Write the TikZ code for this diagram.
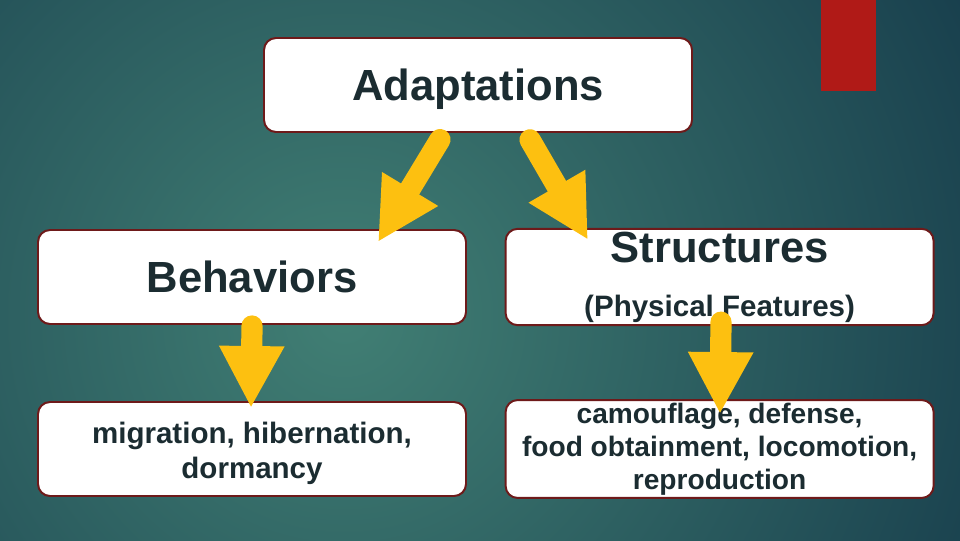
\documentclass[tikz,border=0pt]{standalone}
\usepackage{fontspec}
\setmainfont{Liberation Sans}
\usetikzlibrary{arrows.meta, positioning}
\definecolor{TealLight}{HTML}{417F74}
\definecolor{TealDark}{HTML}{153A4A}
\definecolor{BoxRed}{HTML}{6E1A1A}
\definecolor{InkDark}{HTML}{1B2C31}
\definecolor{ArrowGold}{HTML}{FDC010}
\definecolor{TabRed}{HTML}{B01A17}
\tikzset{
  conceptbox/.style={draw=BoxRed, line width=1.4pt, rounded corners=0.3cm, fill=white, align=center, minimum width=10.7cm, minimum height=2.35cm, inner sep=2pt, text=InkDark},
  bigfont/.style={font=\fontsize{31}{37}\selectfont\bfseries},
  goldarrow/.style={-{Triangle[length=1.55cm, width=1.52cm]}, line width=0.53cm, line cap=round, draw=ArrowGold, fill=ArrowGold}
}
\newcommand{\topstrut}[1]{\rule{0pt}{#1}}

\begin{document}
\begin{tikzpicture}
\useasboundingbox (0,0) rectangle (24,13.5);
% background
\begin{scope}
\clip (0,0) rectangle (24,13.5);
\shade[inner color=TealLight, outer color=TealDark] (8.6,5.6) circle (19cm);
\end{scope}
\fill[TabRed] (20.525,11.225) rectangle (21.9,13.5);

\node[conceptbox, bigfont, text depth=0pt] (adapt) at (11.95,11.375) {Adaptations};
\node[conceptbox, bigfont] (behav) at (6.3,6.575) {Behaviors};
\node[conceptbox, font=\fontsize{31}{38.5}\selectfont\bfseries] (struct) at (17.99,6.575) {Structures\\{\fontsize{21}{25}\selectfont (Physical Features)}};
\node[conceptbox, font=\fontsize{21}{25}\selectfont\bfseries] (bleft) at (6.3,2.275) {\topstrut{22pt}migration, hibernation,\\dormancy};
\node[conceptbox, font=\fontsize{20}{23.5}\selectfont\bfseries] (bright) at (17.99,2.275) {camouflage, defense,\\food obtainment, locomotion,\\reproduction};

\draw[goldarrow] ([xshift=-0.95cm,yshift=-0.165cm]adapt.south) -- ([xshift=3.15cm,yshift=-0.325cm]behav.north);
\draw[goldarrow] ([xshift=1.3cm,yshift=-0.17cm]adapt.south) -- ([xshift=-3.29cm,yshift=-0.3cm]struct.north);
\draw[goldarrow] ([yshift=-0.025cm]behav.south) -- ([xshift=-0.025cm,yshift=-0.175cm]bleft.north);
\draw[goldarrow] ([xshift=0.035cm,yshift=0.1cm]struct.south) -- ([xshift=0.01cm,yshift=-0.375cm]bright.north);
\end{tikzpicture}
\end{document}
